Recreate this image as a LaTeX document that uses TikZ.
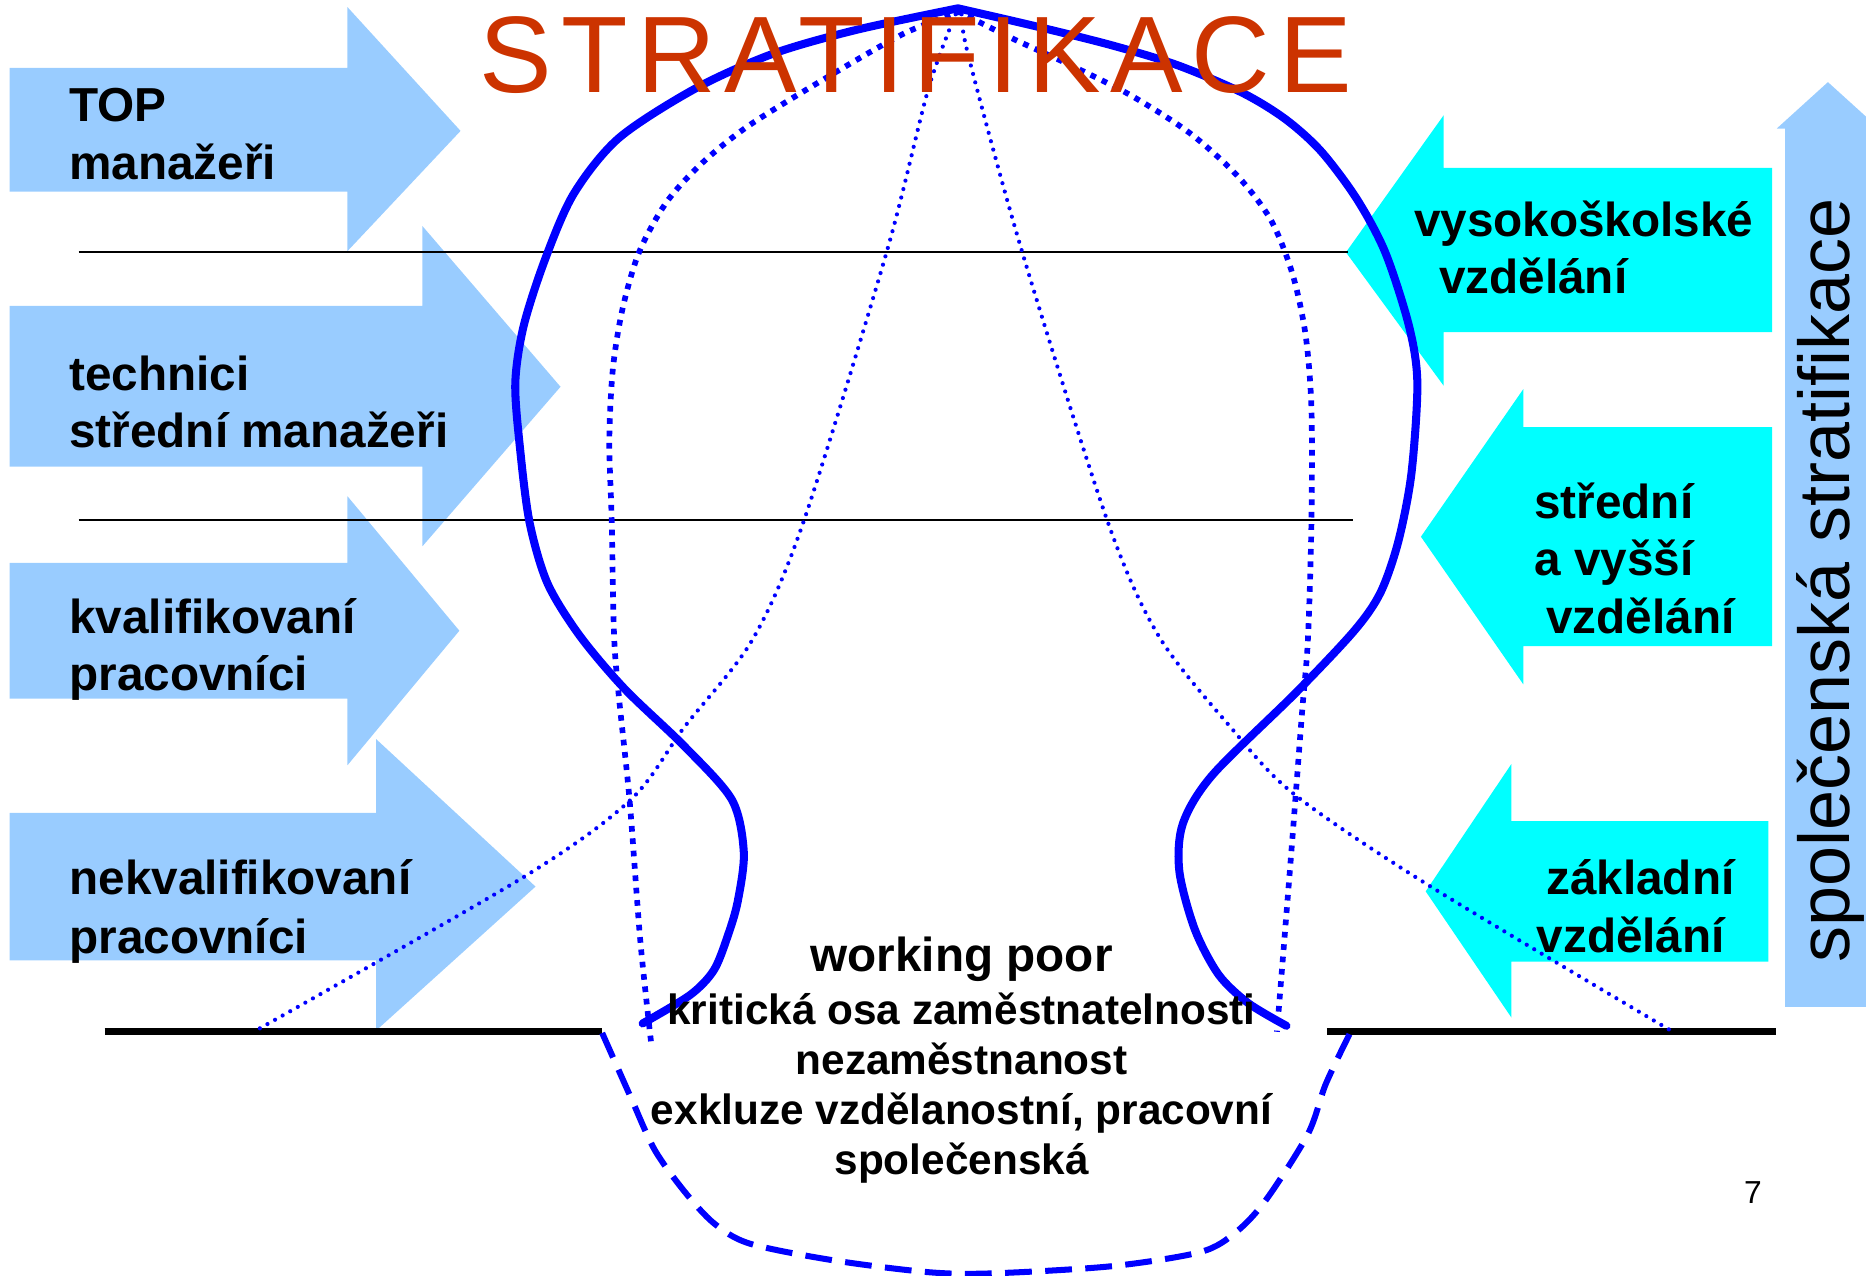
\documentclass[tikz,border=0pt]{standalone}
\usepackage{fontspec}
\setmainfont{Liberation Sans}
\definecolor{jobblue}{HTML}{99CCFF}
\definecolor{educyan}{HTML}{00FFFF}
\definecolor{titlered}{HTML}{CC3300}
\tikzset{
  joblab/.style={font=\fontsize{28.5}{33}\selectfont\bfseries, anchor=base west, inner sep=0pt},
  midlab/.style={font=\fontsize{25.3}{30}\selectfont\bfseries, anchor=base, inner sep=0pt},
  jobarrow/.style={fill=jobblue},
  eduarrow/.style={fill=educyan},
  solidcurve/.style={blue, line width=4.8pt, line join=round, line cap=round},
  bell/.style={blue, line width=3.4pt, dash pattern=on 3.4pt off 4pt},
  fan/.style={blue, line width=2.5pt, line cap=round, dash pattern=on 0pt off 5.2pt},
  pit/.style={blue, line width=3.6pt, dash pattern=on 16pt off 8pt},
  floorline/.style={black, line width=4.4pt},
  layerline/.style={black, line width=1.1pt}
}
\begin{document}
\begin{tikzpicture}[x=0.025cm, y=-0.025cm]
  \useasboundingbox (0,0) rectangle (1568,1072);
  %% arrows on the left
  \fill [jobarrow] (8,57)--(292,57)--(292,6)--(387,110)--(292,211)--(292,161)--(8,161)--cycle;
  \fill [jobarrow] (8,257)--(355,257)--(355,190)--(471,325)--(355,459)--(355,392)--(8,392)--cycle;
  \fill [jobarrow] (8,473)--(292,473)--(292,417)--(386,530)--(292,643)--(292,587)--(8,587)--cycle;
  \fill [jobarrow] (8,683)--(316,683)--(316,621)--(450,745)--(316,866)--(316,807)--(8,807)--cycle;
  %% arrows on the right
  \fill [eduarrow] (1489,141)--(1213,141)--(1213,97)--(1131,212)--(1213,324)--(1213,279)--(1489,279)--cycle;
  \fill [eduarrow] (1489,359)--(1280,359)--(1280,327)--(1194,451)--(1280,575)--(1280,543)--(1489,543)--cycle;
  \fill [eduarrow] (1486,690)--(1270,690)--(1270,642)--(1198,749)--(1270,855)--(1270,808)--(1486,808)--cycle;
  \fill [jobarrow] (1500,846)--(1500,108)--(1493,108)--(1536,69)--(1568,98)--(1568,846)--cycle;
  %% layers
  \draw [layerline] (66,212)--(1133,212);
  \draw [layerline] (66,437)--(1137,437);
  \draw [floorline] (88,867)--(506,867);
  \draw [floorline] (1115,867)--(1492,867);
  %% curves
  \draw [fan] plot[smooth] coordinates {(803,12) (780,75) (745,212) (675,439) (632,538) (575,611) (530,672) (440,737) (215,866)};
  \draw [fan] plot[smooth] coordinates {(808,12) (814,48) (859,212) (931,439) (974,535) (1034,611) (1087,667) (1199,743) (1404,866)};
  \draw [bell] plot[smooth] coordinates {(547,875) (538,790) (529,672) (520,585) (516,534) (514,437) (512,370) (515,310) (523,260) (537,212) (560,170) (590,137) (630,105) (700,62) (760,28) (806,10)}
    -- plot[smooth] coordinates {(806,10) (850,32) (900,55) (950,80) (1000,112) (1040,148) (1068,185) (1086,230) (1097,281) (1102,343) (1102,439) (1099,538) (1094,600) (1084,730) (1073,867)};
  \draw [solidcurve] plot[smooth] coordinates {(540,860) (580,836) (600,815) (612,785) (620,757) (625,716) (615,672) (575,627) (525,579) (487,534) (460,490) (445,439) (437,377) (433,322) (440,274) (458,218) (482,163) (520,116) (585,74) (650,45) (720,25) (805,7)}
    -- plot[smooth] coordinates {(805,7) (870,22) (934,38) (990,55) (1044,78) (1080,100) (1110,127) (1140,167) (1164,212) (1184,274) (1191,322) (1186,398) (1175,455) (1160,498) (1138,530) (1089,582) (1019,651) (994,692) (991,732) (1004,781) (1024,819) (1049,843) (1081,862)};
  \draw [pit] plot[smooth] coordinates {(506,868) (530,922) (550,966) (575,1001) (600,1028) (630,1045) (700,1059) (780,1069) (834,1070) (934,1064) (1009,1052) (1039,1035) (1064,1008) (1099,953) (1114,911) (1134,869)};
  %% title
  \node [anchor=base west, inner sep=0pt, text=titlered, font=\fontsize{65}{70}\selectfont\addfontfeature{LetterSpace=8.4}] (title) at (403,78) {STRATIFIKACE};
  %% job labels
  \node [joblab] (top1) at (58,102) {TOP};
  \node [joblab] (top2) at (58,151) {manažeři};
  \node [joblab] (tech1) at (58,328) {technici};
  \node [joblab] (tech2) at (58,376) {střední manažeři};
  \node [joblab] (kval1) at (58,532) {kvalifikovaní};
  \node [joblab] (kval2) at (58,580) {pracovníci};
  \node [joblab] (nekval1) at (58,752) {nekvalifikovaní};
  \node [joblab] (nekval2) at (58,801) {pracovníci};
  %% education labels
  \node [joblab] (vs1) at (1188,199) {vysokoškolské};
  \node [joblab] (vs2) at (1209,247) {vzdělání};
  \node [joblab] (ss1) at (1289,436) {střední};
  \node [joblab] (ss2) at (1289,484) {a vyšší};
  \node [joblab] (ss3) at (1299,532) {vzdělání};
  \node [joblab] (zs1) at (1299,752) {základní};
  \node [joblab] (zs2) at (1291,800) {vzdělání};
  %% bottom
  \node [midlab, font=\fontsize{28.5}{33}\selectfont\bfseries] (poor) at (808,816) {working poor};
  \node [midlab] (osa) at (808,861) {kritická osa zaměstnatelnosti};
  \node [midlab] (nez) at (808,903) {nezaměstnanost};
  \node [midlab] (exkl) at (808,945) {exkluze vzdělanostní, pracovní};
  \node [midlab] (spol) at (808,987) {společenská};
  \node [anchor=base, inner sep=0pt, font=\fontsize{19}{22}\selectfont] (page) at (1473,1011) {7};
  \node [anchor=base, inner sep=0pt, rotate=90, font=\fontsize{43}{48}\selectfont] (strat) at (1554,488) {společenská stratifikace};
\end{tikzpicture}
\end{document}
